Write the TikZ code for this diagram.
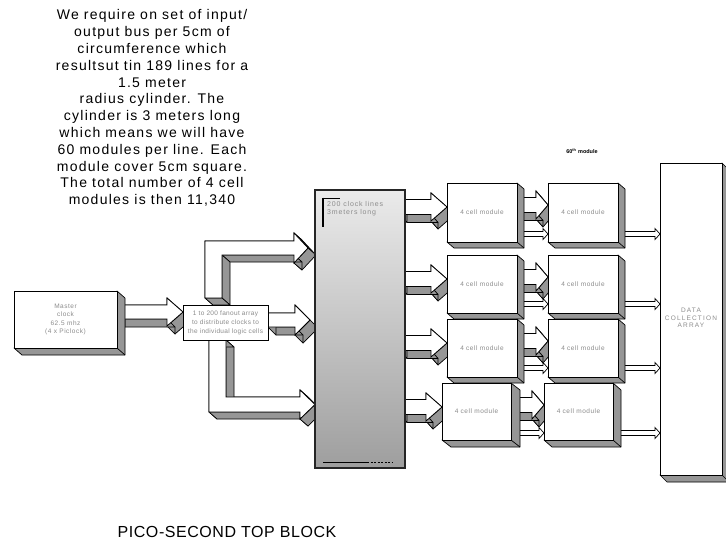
\documentclass[tikz,border=0pt]{standalone}
\usepackage{fontspec}
\setmainfont{Liberation Sans}
\usetikzlibrary{calc}
\definecolor{sidegray}{RGB}{150,150,150}
\definecolor{txtgray}{RGB}{140,140,140}
\tikzset{
  side/.style={fill=sidegray, draw=black, line width=0.7pt, line join=round},
  front/.style={fill=white, draw=black, line width=0.8pt, line join=miter},
  flatarrow/.style={fill=white, draw=black, line width=0.7pt},
  boxnode/.style={draw=black, fill=white, line width=0.8pt, inner sep=0pt, text=txtgray, align=center,
    font=\fontsize{6.5}{8.4}\selectfont\addfontfeature{LetterSpace=8}},
  para/.style={anchor=north, align=center, inner sep=0pt,
    font=\fontsize{14}{16.8}\selectfont\addfontfeature{LetterSpace=9}},
}
% extruded polygon: #1 dx, #2 dy, #3 x0, #4 y0, #5 rest of points x/y ending at x0/y0
\newcommand\extr[5]{%
  \foreach \xa/\ya [remember=\xa as \xb (initially #3), remember=\ya as \yb (initially #4)] in {#5}{
    \filldraw[side] (\xb,\yb) -- (\xa,\ya) -- (\xa+#1,\ya+#2) -- (\xb+#1,\yb+#2) -- cycle;}
  \filldraw[front] (#3,#4) \foreach \xa/\ya in {#5}{ -- (\xa,\ya)} -- cycle;
}
% 3D block arrow: #1 dx #2 dy #3 x0 #4 tip x #5 centre y #6 body half #7 head half #8 head length
\newcommand\blockarrow[8]{%
  \pgfmathsetmacro\ba{#5-#6}\pgfmathsetmacro\bb{#5+#6}%
  \pgfmathsetmacro\ha{#5-#7}\pgfmathsetmacro\hb{#5+#7}%
  \pgfmathsetmacro\hx{#4-#8}%
  \extr{#1}{#2}{#3}{\ba}{\hx/\ba,\hx/\ha,#4/#5,\hx/\hb,\hx/\bb,#3/\bb,#3/\ba}%
}
% flat outlined arrow: #1 x0 #2 tip #3 centre y
\newcommand\thinarrow[3]{%
  \filldraw[flatarrow] (#1,#3-2.5) -- (#2-5,#3-2.5) -- (#2-5,#3-5.5) -- (#2,#3) -- (#2-5,#3+5.5)
    -- (#2-5,#3+2.5) -- (#1,#3+2.5) -- cycle;
}
% 3D box: #1 name #2 x1 #3 y1 #4 x2 #5 y2 #6 dx #7 dy #8 text
\newcommand\threedbox[8]{%
  \filldraw[side] (#4,#3) -- (#4+#6,#3+#7) -- (#4+#6,#5+#7) -- (#2+#6,#5+#7) -- (#2,#5) -- (#4,#5) -- cycle;
  \draw[line width=0.7pt] (#4,#5) -- (#4+#6,#5+#7);
  \pgfmathsetmacro\bw{#4-#2}\pgfmathsetmacro\bh{#5-#3}%
  \node[boxnode, minimum width=\bw pt, minimum height=\bh pt] (#1) at ({(#2+#4)/2},{(#3+#5)/2}) {#8};
}
\begin{document}
\begin{tikzpicture}[x=1pt,y=-1pt]
\useasboundingbox (0,0) rectangle (726,541);
\fill[white] (0,0) rectangle (726,541);

\node[para] (para) at (152,9.5) {We require on set of input/\\output bus per 5cm of\\circumference which\\resultsut tin 189 lines for a\\1.5 meter\\radius cylinder. The\\cylinder is 3 meters long\\which means we will have\\60 modules per line. Each\\module cover 5cm square.\\The total number of 4 cell\\modules is then 11,340};

% ---- block arrows ----
\blockarrow{8}{8}{117}{183}{312}{7}{14}{16}
\extr{8}{7}{205}{298}{205/241,294/241,294/233,308/248,294/263,294/255,222/255,222/298,205/298}
\blockarrow{8}{8}{268}{310}{320}{7}{15}{15}
\extr{8}{7}{209}{340}{209/412,300/412,300/419,315/404.5,300/390,300/397,226/397,226/340,209/340}

% clock lines -> first column
\blockarrow{7}{8}{400}{447}{207}{7.5}{14}{16}
\blockarrow{7}{8}{400}{447}{279}{7.5}{14}{16}
\blockarrow{7}{8}{400}{447}{343}{7.5}{14}{16}
\blockarrow{7}{8}{400}{442}{407}{7.5}{14}{16}

% first column -> second column
\blockarrow{7}{8}{512}{548}{205}{7.5}{14}{12}
\blockarrow{7}{8}{512}{548}{277}{7.5}{14}{12}
\blockarrow{7}{8}{512}{548}{341}{7.5}{14}{12}
\blockarrow{7}{8}{506}{544}{405}{7.5}{14}{12}

\thinarrow{517}{548}{234}
\thinarrow{517}{548}{304}
\thinarrow{517}{548}{368}
\thinarrow{511}{544}{433}

\thinarrow{618}{660}{234}
\thinarrow{618}{660}{304}
\thinarrow{618}{660}{368}
\thinarrow{613}{660}{433}

% ---- boxes ----
\threedbox{mc}{14}{291}{117}{348}{8}{7}{Master\\clock\\62.5 mhz\\(4 x Piclock)}

\node[boxnode, minimum width=85pt, minimum height=35pt, font=\fontsize{6.5}{9}\selectfont\addfontfeature{LetterSpace=5}]
  (fan) at (225.5,322.5) {1 to 200 fanout array\\to distribute clocks to\\the individual logic cells};

\node[draw=black!85, line width=1.1pt, top color=black!8, bottom color=black!38,
  minimum width=90pt, minimum height=278pt, inner sep=0pt] (clk) at (360,329) {};
\node[anchor=north west, align=left, inner sep=0pt, text=txtgray,
  font=\fontsize{7}{8}\selectfont\addfontfeature{LetterSpace=12}] (clktxt) at (327,201) {200 clock lines\\3meters long};
\draw[line width=2pt] (323,197.5) -- (323,227);
\draw[line width=0.8pt] (322,198) -- (340,198);
\draw[line width=0.8pt] (323,462) -- (367,462);
\draw[line width=0.8pt, dash pattern=on 2pt off 1.5pt] (367,462) -- (393,462);

\threedbox{m11}{447}{183}{517}{242}{7}{6}{4 cell module}
\threedbox{m12}{548}{183}{618}{242}{7}{6}{4 cell module}
\threedbox{m21}{447}{255}{517}{313}{7}{6}{4 cell module}
\threedbox{m22}{548}{255}{618}{313}{7}{6}{4 cell module}
\threedbox{m31}{447}{319}{517}{377}{7}{6}{4 cell module}
\threedbox{m32}{548}{319}{618}{377}{7}{6}{4 cell module}
\threedbox{m41}{442}{383}{511}{440}{9}{7}{4 cell module}
\threedbox{m42}{544}{383}{613}{440}{8}{7}{4 cell module}

\threedbox{dca}{660}{163}{722}{475}{7}{7}{}
\node[align=center, inner sep=0pt, text=txtgray,
  font=\fontsize{6.5}{7.5}\selectfont\addfontfeature{LetterSpace=18}] (dcatxt) at (691,318) {DATA\\COLLECTION\\ARRAY};

\node[font=\bfseries\fontsize{5.5}{6}\selectfont] (lbl60) at (582,151) {60\textsuperscript{th} module};

\node[anchor=base, inner sep=0pt, font=\fontsize{16}{18}\selectfont\addfontfeature{LetterSpace=3.5}]
  (title) at (227,537) {PICO-SECOND TOP BLOCK};
\end{tikzpicture}
\end{document}
